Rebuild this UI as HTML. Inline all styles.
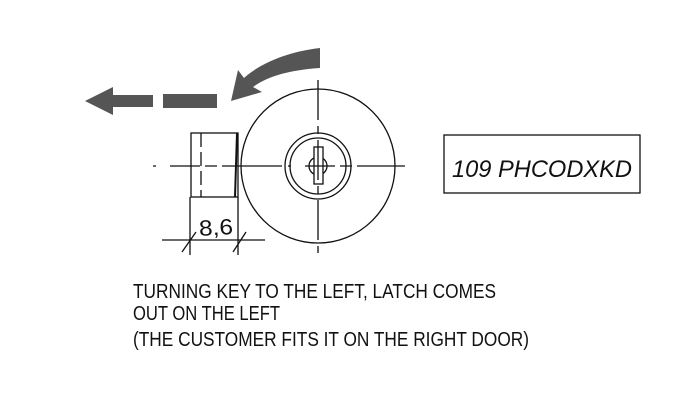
<!DOCTYPE html>
<html><head><meta charset="utf-8"><style>html,body{margin:0;padding:0;background:#fff}</style></head>
<body>
<svg width="688" height="406" viewBox="0 0 688 406" xmlns="http://www.w3.org/2000/svg">
<g fill="#555">
<polygon points="85,101 113,87 113,95 153,95 153,107 113,107 113,115"/>
<rect x="163" y="94" width="54" height="14"/>
<path d="M320,48 C285,52 258,65 244,78 L238,70 L231,101 L262,92 L253,87 C268,76 290,70 320,68 Z"/>
</g>
<g stroke="#111" fill="none" stroke-width="1.3">
<circle cx="318" cy="166" r="77"/>
<circle cx="318" cy="166" r="33"/>
<circle cx="318" cy="166" r="28"/>
<circle cx="318" cy="166" r="9" fill="#fff"/>
<rect x="314" y="147" width="9" height="37" fill="#fff"/>
<line x1="318" y1="80" x2="318" y2="253" stroke-dasharray="40,6,8,6"/>
<line x1="153" y1="166" x2="405" y2="166" stroke-dasharray="3,14,30,5,12,5,60,6"/>
<rect x="191" y="133" width="47" height="64"/>
<line x1="201" y1="133" x2="201" y2="197" stroke-dasharray="14,5"/>
<line x1="237" y1="133" x2="235" y2="197" stroke-width="2"/>
<line x1="190" y1="197" x2="190" y2="255"/>
<line x1="238" y1="197" x2="238" y2="255"/>
<line x1="162" y1="240" x2="265" y2="240"/>
<path d="M182,252 L196,232 M233,252 L246,232"/>
<rect x="444" y="135" width="196" height="58"/>
</g>
<text x="199" y="235" font-family="Liberation Sans, sans-serif" font-size="22" fill="#111" textLength="34" lengthAdjust="spacingAndGlyphs" transform="rotate(-3 215 228)">8,6</text>
<text x="452" y="177" font-family="Liberation Sans, sans-serif" font-size="24" font-style="italic" fill="#111" textLength="180" lengthAdjust="spacingAndGlyphs">109 PHCODXKD</text>
<g font-family="Liberation Sans, sans-serif" font-size="20" fill="#111">
<text x="133" y="298" textLength="363" lengthAdjust="spacingAndGlyphs">TURNING KEY TO THE LEFT, LATCH COMES</text>
<text x="133" y="320" textLength="147" lengthAdjust="spacingAndGlyphs">OUT ON THE LEFT</text>
<text x="133" y="346" textLength="396" lengthAdjust="spacingAndGlyphs">(THE CUSTOMER FITS IT ON THE RIGHT DOOR)</text>
</g>
</svg>
</body></html>
